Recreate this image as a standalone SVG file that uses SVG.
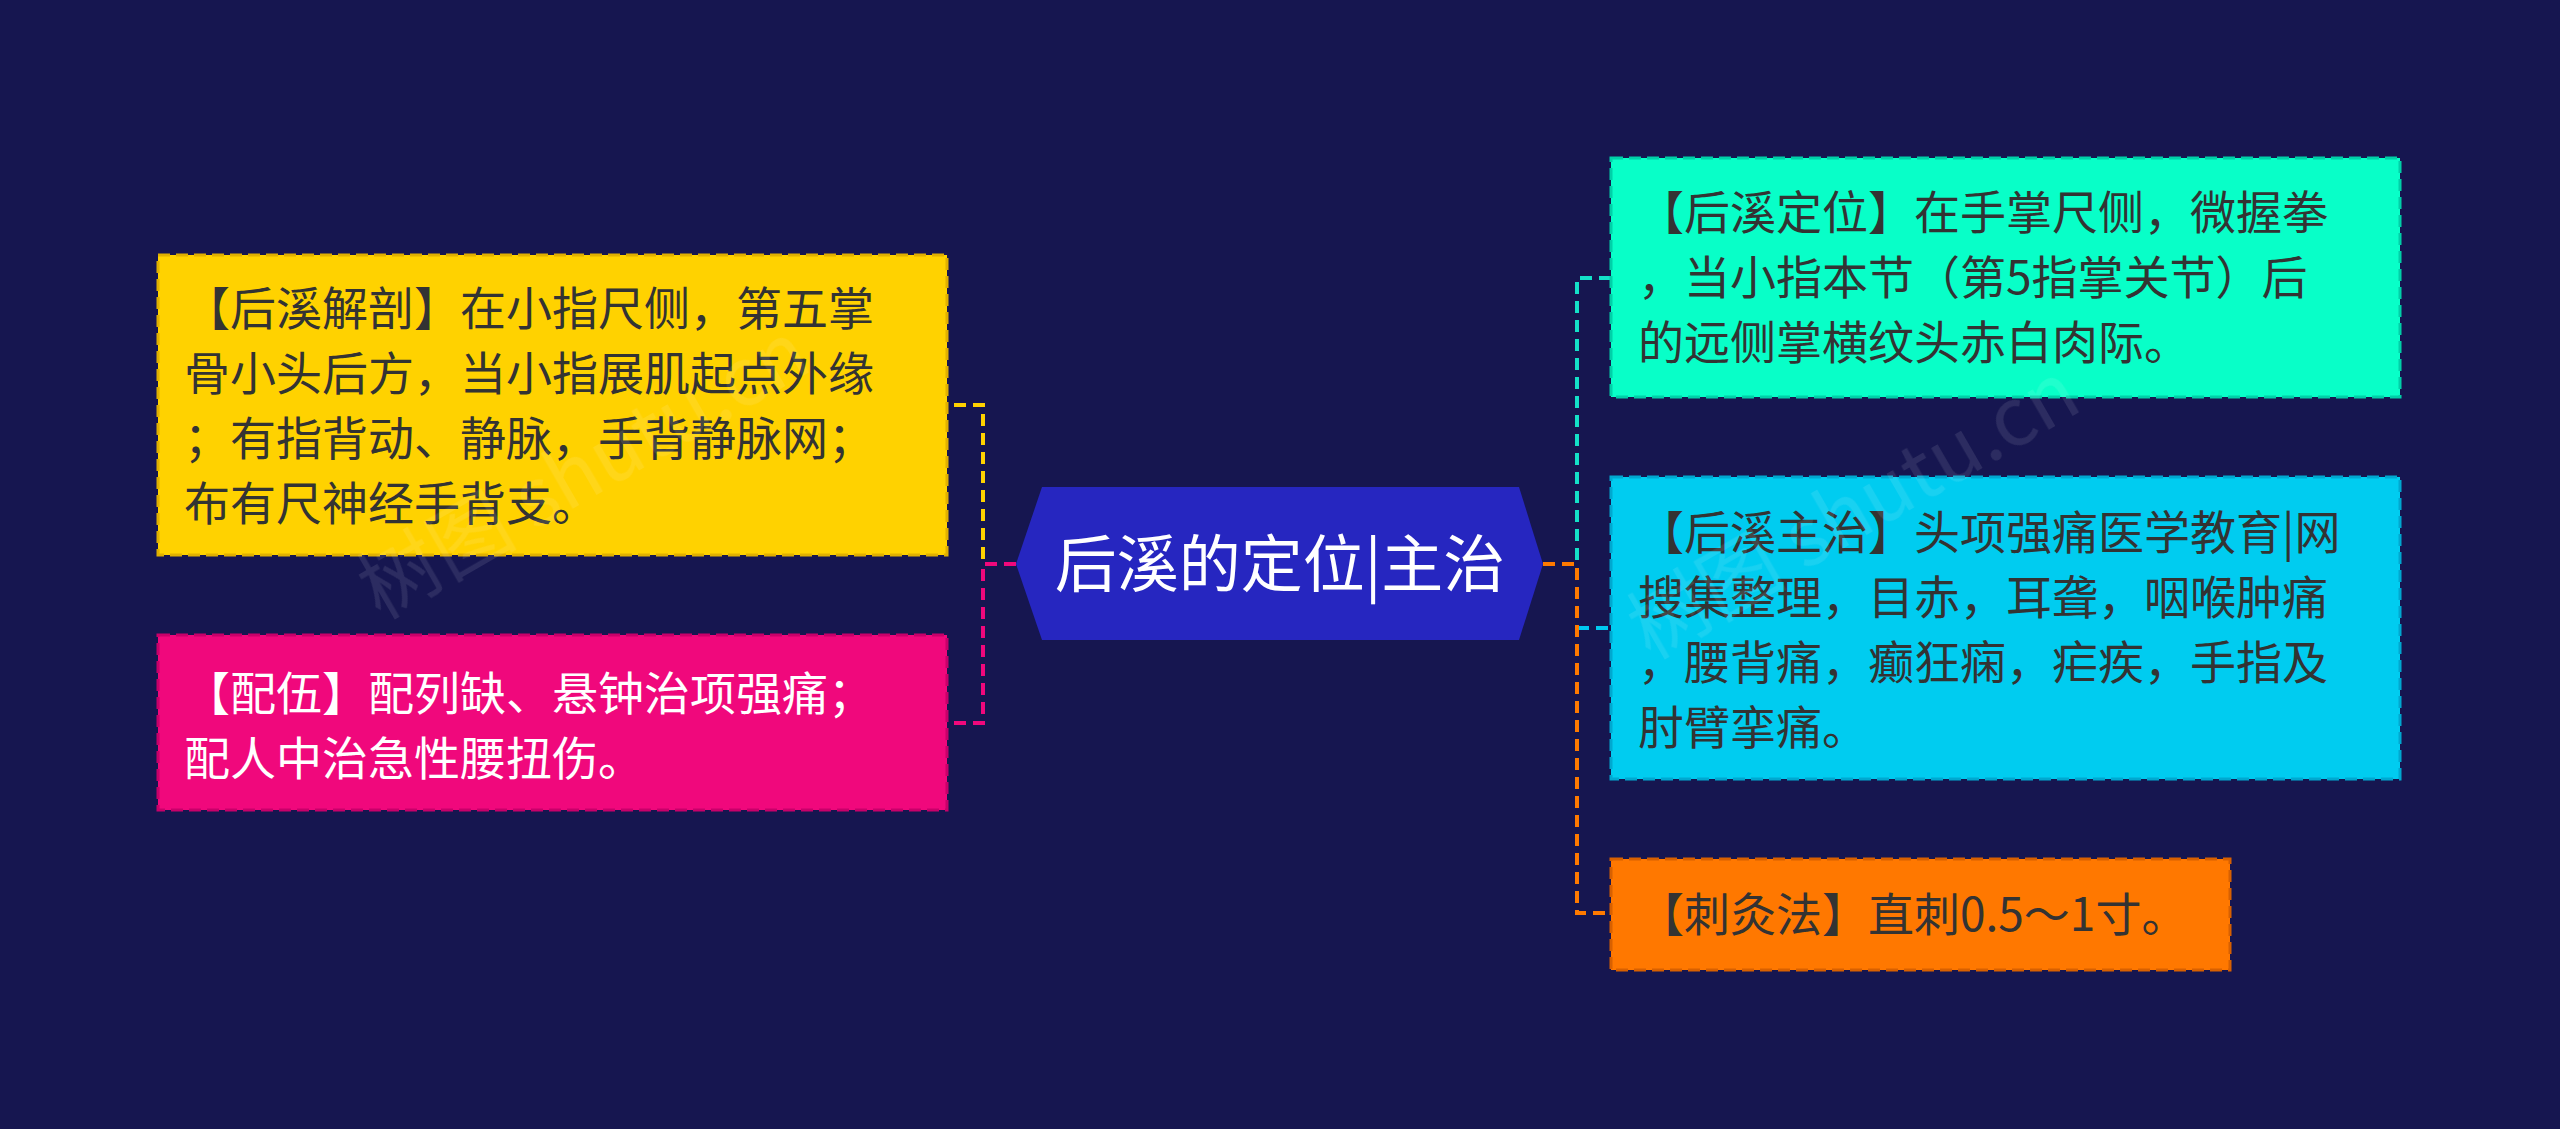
<svg xmlns="http://www.w3.org/2000/svg" width="2560" height="1129" viewBox="0 0 2560 1129">
<style>
text{font-family:"Noto Sans CJK SC","Noto Sans",sans-serif;}
.t{font-size:46px;fill:#333333;}
.w{fill:#ffffff;}
.c{fill:none;stroke-width:4;stroke-dasharray:12 7;}
.b{stroke-width:3;stroke-dasharray:12 6;}
</style>
<rect width="2560" height="1129" fill="#161650"/>
<g id="connectors">
<path class="c" stroke="#FFD200" d="M1016 564H983V405H947"/>
<path class="c" stroke="#F0087C" d="M1016 564H983V723H947"/>
<path class="c" stroke="#14E0C8" d="M1543 564H1577V278H1611"/>
<path class="c" stroke="#00C8F0" d="M1577 628H1611" stroke-dasharray="0 16 14 10"/>
<path class="c" stroke="#FF7A00" d="M1543 564H1577V913H1611"/>
</g>
<g id="center">
<polygon points="1016,564 1042,487 1519,487 1543,564 1519,640 1042,640" fill="#2626C0"/>
<text x="1280" y="587" text-anchor="middle" font-size="62" class="w">后溪的定位|主治</text>
</g>
<g id="n1">
<rect class="b" x="158" y="255" width="789" height="300" fill="#FFD200" stroke="#E0B000"/>
<text class="t"><tspan x="184" y="325">【后溪解剖】在小指尺侧，第五掌</tspan><tspan x="184" y="390">骨小头后方，当小指展肌起点外缘</tspan><tspan x="184" y="455">；有指背动、静脉，手背静脉网；</tspan><tspan x="184" y="520">布有尺神经手背支。</tspan></text>
</g>
<g id="n2">
<rect class="b" x="158" y="635" width="789" height="175" fill="#F0087C" stroke="#C8006A"/>
<text class="t w"><tspan x="184" y="710">【配伍】配列缺、悬钟治项强痛；</tspan><tspan x="184" y="775">配人中治急性腰扭伤。</tspan></text>
</g>
<g id="n3">
<rect class="b" x="1611" y="158" width="789" height="239" fill="#08FFC8" stroke="#00D0A8"/>
<text class="t"><tspan x="1638" y="229">【后溪定位】在手掌尺侧，微握拳</tspan><tspan x="1638" y="294">，当小指本节（第5指掌关节）后</tspan><tspan x="1638" y="359">的远侧掌横纹头赤白肉际。</tspan></text>
</g>
<g id="n4">
<rect class="b" x="1611" y="477" width="789" height="302" fill="#00CCF0" stroke="#00A8D0"/>
<text class="t"><tspan x="1638" y="549">【后溪主治】头项强痛医学教育|网</tspan><tspan x="1638" y="614">搜集整理，目赤，耳聋，咽喉肿痛</tspan><tspan x="1638" y="679">，腰背痛，癫狂痫，疟疾，手指及</tspan><tspan x="1638" y="744">肘臂挛痛。</tspan></text>
</g>
<g id="n5">
<rect class="b" x="1611" y="859" width="619" height="111" fill="#FF7800" stroke="#D86000"/>
<text class="t" x="1638" y="931">【刺灸法】直刺0.5～1寸。</text>
</g>
<g id="watermark" font-size="80" fill="#ffffff" opacity="0.1">
<text x="380" y="620" transform="rotate(-30 380 620)">树图 shutu.cn</text>
<text x="1650" y="660" transform="rotate(-30 1650 660)">树图 shutu.cn</text>
</g>
</svg>
